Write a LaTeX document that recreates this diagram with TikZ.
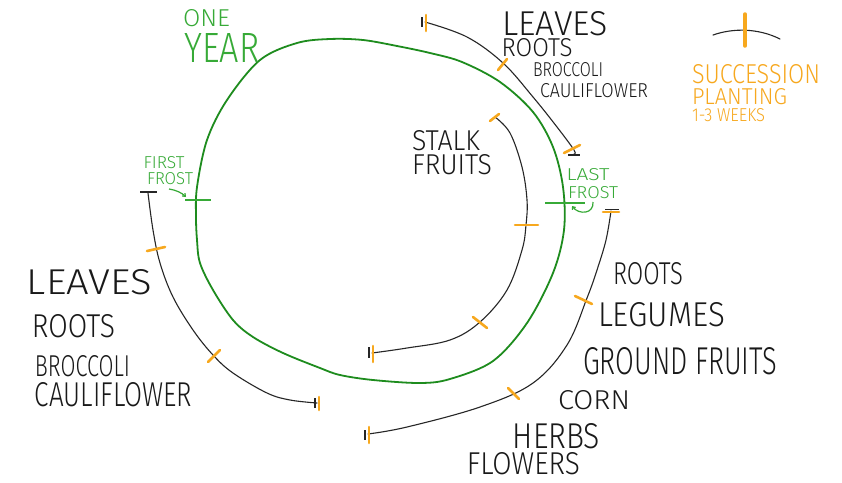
\documentclass[tikz,border=0pt]{standalone}
\usepackage{fontspec}
\usepackage{graphicx}
\usetikzlibrary{arrows.meta}
\newfontfamily\handfont{Fira Sans Light}
\definecolor{ograng}{RGB}{247,168,30}
\definecolor{gline}{RGB}{30,140,30}
\definecolor{gtext}{RGB}{55,170,55}
\newcommand{\hb}[3]{\resizebox{#1pt}{#2pt}{\handfont #3}}
\begin{document}
\begin{tikzpicture}[x=1pt,y=-1pt,
  lbl/.style={inner sep=0pt, outer sep=0pt, text=black!90},
  glbl/.style={lbl, text=gtext},
  olbl/.style={lbl, text=ograng, anchor=west},
  arcline/.style={draw=black!85, line width=1.1pt, line cap=round},
  greenline/.style={draw=gline, line width=1.8pt},
  gthin/.style={draw=gtext, line width=1.2pt},
  otick/.style={draw=ograng, line width=2.6pt, line cap=round},
  ebar/.style={draw=black!85, line width=1.1pt},
]
\useasboundingbox (0,0) rectangle (842,482);
\fill[white] (0,0) rectangle (842,482);

% green one-year loop
\draw[greenline] plot[smooth cycle, tension=0.55] coordinates {
 (330,39) (363,40) (397,46) (430,53) (462,62) (500,82) (533,112) (553,147)
 (563,187) (564,230) (553,273) (527,323) (493,361) (450,379) (420,383)
 (373,380) (340,375) (320,368) (283,353) (253,337) (233,320) (213,290)
 (200,263) (197,240) (196,217) (197,187) (207,140) (227,100) (260,60) (297,43)};

% frost marks
\draw[gthin] (185,200) -- (211,200);
\draw[gthin] (545,203) -- (585,203);
\draw[gthin, -{Straight Barb[length=2.5pt,width=4pt]}] (169,189) .. controls (176,190) and (182,193) .. (186,197);
\draw[gthin, -{Straight Barb[length=2.5pt,width=4pt]}] (593,202) .. controls (594,214) and (579,215) .. (572,206);

% top-right arc (leaves ...)
\coordinate (tA) at (425,22);
\coordinate (tB) at (574,154);
\draw[arcline] plot[smooth, tension=0.6] coordinates {(tA) (467,37) (503,63) (533,97) (557,127) (574,150) (tB)};
\draw[ebar] (422,17) -- (422,27);
\draw[otick] (426,15) -- (426,31);
\draw[otick] (498,70) -- (507,59);
\draw[otick] (564,153) -- (580,145);
\draw[ebar] (568,155) -- (580,155);

% stalk arc
\coordinate (sA) at (495,117);
\coordinate (sB) at (372,353);
\draw[arcline] plot[smooth, tension=0.6] coordinates {(sA) (510,133) (522,167) (527,200) (526,225) (522,250) (507,290) (480,322) (450,340) (407,348) (sB)};
\draw[otick] (490,121) -- (499,114);
\draw[otick] (515,225) -- (538,225);
\draw[otick] (473,317) -- (487,328);
\draw[ebar] (369,347) -- (369,358);
\draw[otick] (373,346) -- (373,362);

% right lower arc
\coordinate (rA) at (611,211);
\coordinate (rB) at (368,434);
\draw[arcline] plot[smooth, tension=0.6] coordinates {(rA) (606,240) (597,270) (587,298) (567,345) (533,383) (480,407) (407,427) (rB)};
\draw[otick] (603,212) -- (619,212);
\draw[ebar] (605,209.5) -- (619,209.5);
\draw[otick] (575,296) -- (592,304);
\draw[otick] (508,388) -- (519,399);
\draw[ebar] (365,430) -- (365,440);
\draw[otick] (369,427) -- (369,443);

% left arc
\coordinate (lA) at (148,193);
\coordinate (lB) at (317,403);
\draw[arcline] plot[smooth, tension=0.6] coordinates {(lA) (153,230) (160,263) (173,297) (193,330) (213,355) (233,373) (267,393) (290,400) (lB)};
\draw[ebar] (140,192) -- (157,192);
\draw[otick] (147,251) -- (165,247);
\draw[otick] (208,362) -- (220,350);
\draw[ebar] (315,398) -- (315,408);
\draw[otick] (319,397) -- (319,410);

% legend
\draw[arcline] (713,35) .. controls (733,28) and (758,28) .. (780,39);
\draw[otick, line width=3.5pt] (745,14) -- (745,46);
\node[olbl] (succ) at (692,74.5) {\hb{128}{19}{SUCCESSION}};
\node[olbl] (plant) at (692,97) {\hb{95}{16}{PLANTING}};
\node[olbl] (weeks) at (692,115.5) {\hb{73}{13}{1-3 WEEKS}};

% green labels
\node[glbl] (one) at (206.5,18.5) {\hb{47}{17}{ONE}};
\node[glbl] (year) at (222,48) {\hb{75}{29}{YEAR}};
\node[glbl] (first) at (164,163) {\hb{41}{12}{FIRST}};
\node[glbl] (frost1) at (170,178.5) {\hb{46}{12}{FROST}};
\node[glbl] (last) at (588,175) {\hb{43}{12}{LAST}};
\node[glbl] (frost2) at (593,193) {\hb{50}{12}{FROST}};

% top-right labels
\node[lbl] (leavesT) at (555,24) {\hb{106}{24}{LEAVES}};
\node[lbl] (rootsT) at (537,47.5) {\hb{71}{18}{ROOTS}};
\node[lbl] (brocT) at (568,70) {\hb{70}{14}{BROCCOLI}};
\node[lbl] (caulT) at (594,90.5) {\hb{108}{14}{CAULIFLOWER}};

% stalk labels
\node[lbl] (stalk) at (446,140.5) {\hb{68}{20}{STALK}};
\node[lbl] (fruits) at (452,164.5) {\hb{80}{20}{FRUITS}};

% right lower labels
\node[lbl] (rootsR) at (648,273.5) {\hb{70}{22}{ROOTS}};
\node[lbl] (legumes) at (661.5,314.5) {\hb{127}{24}{LEGUMES}};
\node[lbl] (ground) at (680,361) {\hb{194}{27}{GROUND FRUITS}};
\node[lbl] (corn) at (594,400) {\hb{72}{19}{CORN}};
\node[lbl] (herbs) at (556.5,436) {\hb{87}{25}{HERBS}};
\node[lbl] (flowers) at (523.5,464) {\hb{113}{22}{FLOWERS}};

% left labels
\node[lbl] (leavesL) at (89.5,282.5) {\hb{125}{25}{LEAVES}};
\node[lbl] (rootsL) at (73.5,326.5) {\hb{83}{23}{ROOTS}};
\node[lbl] (brocL) at (82.5,366) {\hb{95}{21}{BROCCOLI}};
\node[lbl] (caulL) at (113.5,394.5) {\hb{157}{24}{CAULIFLOWER}};
\end{tikzpicture}
\end{document}
